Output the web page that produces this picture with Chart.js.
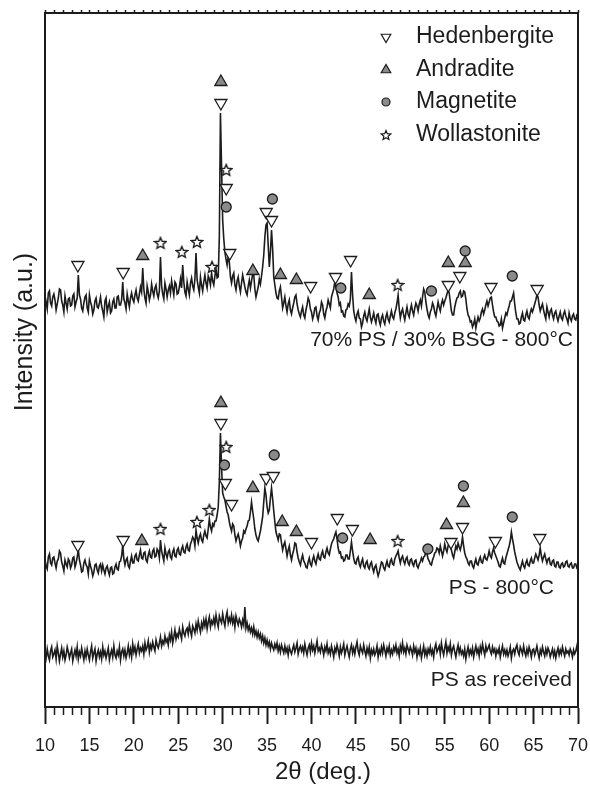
<!DOCTYPE html>
<html>
<head>
<meta charset="utf-8">
<script src="https://cdn.jsdelivr.net/npm/chart.js@4.4.1/dist/chart.umd.min.js"></script>
<style>
  html, body { margin: 0; padding: 0; background: #fff; }
  canvas { display: block; }
</style>
</head>
<body>
<canvas id="xrd" width="590" height="787"></canvas>
<script>
// 2θ grid: 10° to 70°, step 0.125° (one row = one degree)
const startAngle = 10, angleStep = 0.125;

// 70% PS / 30% BSG - 800°C (offset intensity, a.u.)
const ps70Intensity = [
  411,405,398,414,416,404,401,410,
  413,407,397,403,409,418,417,406,
  402,395,411,404,398,408,409,401,
  402,411,413,400,405,409,432,412,
  408,399,396,404,410,412,399,395,
  412,405,401,393,397,406,409,400,
  399,404,410,401,396,390,406,409,
  395,401,405,394,396,405,408,399,
  399,410,411,402,402,407,425,408,
  404,398,413,406,400,409,414,408,
  405,412,417,409,406,413,420,415,
  439,418,409,404,421,415,407,412,
  423,416,411,419,422,413,409,416,
  450,421,413,408,424,418,410,417,
  421,414,426,419,412,425,423,413,
  414,420,428,419,442,425,415,411,
  425,418,412,424,429,421,417,428,
  454,427,420,414,430,422,416,425,
  432,424,419,431,428,422,434,426,
  422,431,438,429,430,470,594,540,
  487,468,455,448,442,451,445,430,
  424,431,434,422,417,426,430,421,
  415,424,432,426,420,415,412,421,
  427,419,426,433,432,418,410,415,
  420,428,423,431,440,452,470,482,
  484,462,440,455,477,458,430,422,
  414,409,408,416,420,410,399,404,
  410,401,395,403,407,397,393,399,
  404,410,412,403,397,393,390,396,
  400,392,389,397,402,409,406,398,
  395,388,392,399,400,391,387,394,
  397,405,402,393,389,396,400,407,
  403,399,410,414,418,425,420,414,
  410,402,404,395,396,391,390,397,
  398,403,401,408,435,412,396,390,
  386,393,396,389,388,380,384,391,
  395,389,386,392,398,390,385,389,
  394,388,384,392,393,386,382,389,
  392,386,383,390,394,388,385,391,
  396,390,388,394,398,404,412,398,
  389,395,398,392,387,394,400,393,
  390,397,402,396,392,399,404,401,
  396,403,407,401,410,418,415,405,
  398,392,389,395,398,404,401,395,
  391,398,405,400,396,403,407,402,
  406,409,413,417,414,405,396,392,
  392,400,405,409,410,414,416,410,
  411,416,415,408,398,392,390,385,
  386,380,383,388,379,385,390,386,
  389,395,398,393,397,402,406,401,
  405,409,410,402,395,390,390,386,
  385,381,382,388,379,384,389,394,
  392,397,401,406,406,410,414,403,
  394,388,388,383,384,390,394,387,
  386,392,396,390,388,394,398,395,
  399,403,407,412,410,402,396,400,
  403,397,392,388,400,395,390,396,
  398,392,388,394,396,390,386,391,
  395,389,387,393,396,391,388,384,
  394,389,386,391,393,388,387,392,
  391
];

// PS - 800°C
const ps800Intensity = [
  147,141,138,150,153,144,142,149,
  150,144,139,146,148,156,154,145,
  141,136,147,143,140,148,146,139,
  142,149,150,140,144,150,157,147,
  142,135,136,144,147,142,140,133,
  146,141,137,131,135,142,143,137,
  134,141,143,136,142,137,133,139,
  141,136,132,139,140,133,134,140,
  143,138,137,145,146,151,162,148,
  142,147,149,141,139,146,151,144,
  144,151,153,147,146,152,157,149,
  148,154,155,147,145,152,156,150,
  149,156,158,150,151,158,156,149,
  167,156,151,146,159,153,149,155,
  157,150,148,155,158,151,150,157,
  159,153,152,158,161,155,154,160,
  163,157,156,163,166,170,168,161,
  177,169,164,170,173,167,165,172,
  176,171,169,178,188,180,176,183,
  181,186,186,192,200,225,274,240,
  214,210,207,201,195,192,185,180,
  176,183,181,172,166,170,173,168,
  161,166,169,176,174,178,181,186,
  187,195,205,196,188,178,172,168,
  166,171,176,183,190,205,219,212,
  200,194,197,209,219,208,196,185,
  175,171,167,173,172,164,157,162,
  165,158,151,157,161,152,147,153,
  157,164,163,155,149,145,142,148,
  152,146,144,140,139,145,149,143,
  141,147,151,146,143,149,153,148,
  147,153,156,150,149,155,159,154,
  152,158,163,166,168,172,175,168,
  159,154,155,149,150,146,147,152,
  152,148,148,156,165,156,149,144,
  143,148,150,143,140,145,148,141,
  139,144,146,140,138,143,145,139,
  135,140,142,136,131,135,140,145,
  144,139,137,142,146,141,140,146,
  148,143,142,148,151,153,156,149,
  144,149,151,146,143,148,150,144,
  142,147,148,143,141,146,147,141,
  139,143,145,149,146,150,151,156,
  153,148,146,143,142,147,150,154,
  155,159,158,154,161,156,151,156,
  163,158,155,161,165,160,157,152,
  149,155,161,158,164,160,157,162,
  170,161,154,150,148,144,142,146,
  146,141,139,144,148,143,142,147,
  150,145,144,149,152,148,147,151,
  156,151,149,155,159,154,151,148,
  145,141,140,145,149,144,143,149,
  153,157,161,166,175,168,162,155,
  150,145,142,139,137,142,146,141,
  139,144,147,142,141,146,149,144,
  144,149,153,150,147,152,159,151,
  146,150,153,148,144,148,149,143,
  142,146,147,141,140,145,145,140,
  139,143,144,140,141,145,146,141,
  140,143,144,139,139,143,143,139,
  140
];

// PS as received
const psRawIntensity = [
  55,49,58,51,47,56,60,50,
  53,57,48,61,54,46,53,59,
  50,56,47,52,60,55,49,54,
  58,46,52,57,51,60,48,55,
  51,59,53,47,56,50,58,52,
  47,55,61,49,54,58,46,53,
  57,50,55,48,60,52,56,49,
  54,59,47,53,57,50,61,52,
  49,56,52,60,47,55,58,51,
  57,49,54,61,52,58,50,63,
  55,60,52,58,63,54,59,56,
  61,53,64,57,60,66,55,62,
  58,65,60,56,67,62,59,64,
  70,61,66,63,71,65,68,62,
  72,67,75,64,70,77,68,73,
  70,78,73,68,80,74,71,77,
  79,73,82,76,71,81,78,74,
  83,77,86,80,75,84,79,87,
  81,88,78,85,90,80,86,83,
  89,82,92,85,80,91,87,84,
  93,86,81,90,95,84,89,85,
  92,84,89,80,91,86,82,88,
  85,80,87,82,100,79,84,77,
  81,75,79,73,80,72,76,70,
  75,69,73,66,71,64,69,62,
  67,61,65,58,64,60,57,63,
  59,64,56,61,55,62,58,54,
  61,55,59,52,60,56,53,58,
  62,55,59,64,53,58,61,56,
  60,54,63,57,52,59,62,55,
  64,57,61,54,60,66,56,59,
  55,62,58,52,60,56,63,54,
  58,53,61,56,50,59,55,62,
  57,51,60,54,58,63,52,57,
  61,55,50,58,62,54,59,53,
  60,65,56,52,61,57,54,62,
  56,51,59,54,60,49,57,53,
  58,52,55,61,50,57,53,60,
  54,62,57,51,59,55,61,52,
  57,53,60,56,62,54,58,51,
  61,56,64,55,59,53,62,58,
  54,60,57,52,61,55,59,50,
  57,53,59,49,55,61,52,57,
  51,58,54,60,53,57,50,59,
  63,55,58,61,53,64,57,52,
  59,65,54,60,56,63,52,58,
  61,55,50,57,62,54,59,53,
  56,51,58,48,55,60,52,57,
  53,59,50,56,61,54,58,51,
  60,55,63,57,52,61,56,59,
  62,56,53,60,55,58,51,57,
  54,59,50,56,61,53,57,52,
  57,51,55,60,49,56,58,53,
  59,62,55,52,60,57,53,61,
  55,51,58,53,60,56,50,57,
  58,52,56,61,54,49,57,53,
  60,55,51,58,53,59,56,50,
  54,58,51,56,49,55,59,52,
  57,53,60,55,51,58,54,56,
  52,58,55,50,57,53,56,61,
  53
];

// phase markers (2θ, height) – upper pattern then middle pattern
const hedenbergiteAngle = [13.7, 18.8, 29.8, 30.4, 30.8, 34.9, 35.5, 39.9, 42.7, 44.4, 55.4, 56.7, 60.2, 65.4,
                           13.7, 18.8, 29.8, 30.3, 31.0, 34.9, 35.7, 40.0, 42.9, 44.6, 55.7, 57.0, 60.7, 65.7];
const hedenbergiteLevel = [442, 435, 604, 519, 454, 495, 487, 421, 430, 447, 422, 431, 420, 418,
                           162, 167, 284, 224, 203, 229, 231, 165, 189, 178, 165, 180, 166, 169];
const andraditeAngle = [21.0, 29.8, 33.4, 36.5, 38.3, 46.5, 55.4, 57.3,
                        20.9, 29.8, 33.4, 36.7, 38.3, 46.6, 55.2, 57.1];
const andraditeLevel = [451, 625, 436, 432, 427, 412, 444, 444,
                        166, 304, 219, 185, 175, 167, 182, 204];
const magnetiteAngle = [30.4, 35.6, 43.3, 53.5, 57.3, 62.6,
                        30.2, 35.8, 43.5, 53.1, 57.1, 62.6];
const magnetiteLevel = [500, 508, 419, 416, 456, 431,
                        242, 252, 169, 158, 221, 190];
const wollastoniteAngle = [23.0, 25.4, 27.1, 28.8, 30.4, 49.7,
                           23.0, 27.1, 28.5, 30.4, 49.7];
const wollastoniteLevel = [464, 455, 465, 440, 537, 422,
                           178, 185, 197, 260, 166];

const xTicks = [10, 15, 20, 25, 30, 35, 40, 45, 50, 55, 60, 65, 70];

const FONT = '"Liberation Sans", Arial, Helvetica, sans-serif';
const INK = '#1c1c1c';
const GREY = '#8a8a8a';

// open five-point star used for wollastonite
function makeStar(size, lw) {
    const c = document.createElement('canvas');
    c.width = c.height = size;
    const g = c.getContext('2d');
    const cx = size / 2, cy = size / 2 + 0.5, R = size / 2 - 1, r = R * 0.45;
    g.beginPath();
    for (let i = 0; i < 10; i++) {
        const a = -Math.PI / 2 + i * Math.PI / 5;
        const rad = i % 2 ? r : R;
        g.lineTo(cx + rad * Math.cos(a), cy + rad * Math.sin(a));
    }
    g.closePath();
    g.fillStyle = '#fff';
    g.fill();
    g.lineWidth = lw;
    g.strokeStyle = INK;
    g.stroke();
    return c;
}
const starBig = makeStar(14, 1.4);
const starSmall = makeStar(12, 1.2);

const pairs = (xs, ys) => xs.map((x, i) => ({ x, y: ys[i] }));
const pattern = ys => ys.map((y, i) => ({ x: startAngle + i * angleStep, y }));

function traceSet(ys) {
    return {
        data: pattern(ys),
        showLine: true,
        borderColor: INK,
        borderWidth: 1.6,
        pointRadius: 0,
        tension: 0,
        order: 2
    };
}

// frame, minor ticks, axis titles, curve labels and legend
const decorations = {
    id: 'decorations',
    afterDraw(chart) {
        const { ctx, chartArea: a, scales: { x } } = chart;
        ctx.save();
        ctx.strokeStyle = INK;
        ctx.lineWidth = 2;
        ctx.strokeRect(a.left, a.top, a.right - a.left, a.bottom - a.top);

        ctx.lineWidth = 1.5;
        ctx.beginPath();
        for (let v = 10; v <= 70; v++) {
            const px = Math.round(x.getPixelForValue(v)) + 0.5;
            if (v % 5 !== 0) {
                ctx.moveTo(px, a.bottom);
                ctx.lineTo(px, a.bottom + 8);
            }
            ctx.moveTo(px, a.top);
            ctx.lineTo(px, a.top - 3);
        }
        ctx.stroke();

        ctx.fillStyle = INK;
        ctx.textBaseline = 'middle';
        ctx.textAlign = 'center';
        ctx.font = '24px ' + FONT;
        ctx.fillText('2θ (deg.)', 323, 772);
        ctx.save();
        ctx.translate(25, 332);
        ctx.rotate(-Math.PI / 2);
        ctx.font = '25px ' + FONT;
        ctx.fillText('Intensity (a.u.)', 0, 0);
        ctx.restore();

        ctx.font = '21px ' + FONT;
        ctx.textAlign = 'right';
        ctx.fillText('70% PS / 30% BSG - 800°C', 573, 340);
        ctx.fillText('PS - 800°C', 554, 588);
        ctx.fillText('PS as received', 572, 680);

        // legend
        const lx = 386, tx = 416;
        const rows = [37, 70, 102, 135];
        ctx.textAlign = 'left';
        ctx.font = '23px ' + FONT;
        ctx.fillText('Hedenbergite', tx, rows[0]);
        ctx.fillText('Andradite', tx, rows[1]);
        ctx.fillText('Magnetite', tx, rows[2]);
        ctx.fillText('Wollastonite', tx, rows[3]);

        ctx.lineWidth = 1.2;
        const r = 5.5;
        ctx.beginPath();
        ctx.moveTo(lx - r * 0.87, rows[0] - r / 2);
        ctx.lineTo(lx + r * 0.87, rows[0] - r / 2);
        ctx.lineTo(lx, rows[0] + r);
        ctx.closePath();
        ctx.fillStyle = '#fff';
        ctx.fill();
        ctx.stroke();
        ctx.beginPath();
        ctx.moveTo(lx - r * 0.87, rows[1] + r / 2);
        ctx.lineTo(lx + r * 0.87, rows[1] + r / 2);
        ctx.lineTo(lx, rows[1] - r);
        ctx.closePath();
        ctx.fillStyle = GREY;
        ctx.fill();
        ctx.stroke();
        ctx.beginPath();
        ctx.arc(lx, rows[2], 4, 0, Math.PI * 2);
        ctx.fill();
        ctx.stroke();
        ctx.drawImage(starSmall, lx - 6, rows[3] - 6);
        ctx.restore();
    }
};

new Chart(document.getElementById('xrd'), {
    type: 'scatter',
    data: {
        datasets: [
            {
                data: pairs(hedenbergiteAngle, hedenbergiteLevel),
                pointStyle: 'triangle', pointRotation: 180, pointRadius: 7,
                backgroundColor: '#fff', borderColor: INK, borderWidth: 1.3, order: 1
            },
            {
                data: pairs(andraditeAngle, andraditeLevel),
                pointStyle: 'triangle', pointRadius: 7,
                backgroundColor: GREY, borderColor: INK, borderWidth: 1.3, order: 1
            },
            {
                data: pairs(magnetiteAngle, magnetiteLevel),
                pointStyle: 'circle', pointRadius: 5,
                backgroundColor: GREY, borderColor: INK, borderWidth: 1.3, order: 1
            },
            {
                data: pairs(wollastoniteAngle, wollastoniteLevel),
                pointStyle: starBig, order: 1
            },
            traceSet(ps70Intensity),
            traceSet(ps800Intensity),
            traceSet(psRawIntensity)
        ]
    },
    options: {
        responsive: false,
        animation: false,
        events: [],
        layout: { padding: { top: 13, right: 12, left: 0, bottom: 0 } },
        plugins: { legend: { display: false }, tooltip: { enabled: false } },
        scales: {
            x: {
                type: 'linear', min: 10, max: 70,
                afterBuildTicks: s => { s.ticks = xTicks.map(v => ({ value: v })); },
                ticks: { color: INK, font: { family: FONT, size: 18 }, padding: 11, maxRotation: 0, autoSkip: false },
                grid: { drawOnChartArea: false, tickLength: 17, tickWidth: 2, tickColor: INK },
                border: { color: INK, width: 2 },
                afterFit: s => { s.height = 80; s.paddingLeft = 0; s.paddingRight = 0; }
            },
            y: {
                min: 0, max: 694,
                ticks: { display: false },
                grid: { display: false },
                border: { color: INK, width: 2 },
                afterFit: s => { s.width = 45; }
            }
        }
    },
    plugins: [decorations]
});
</script>
</body>
</html>
